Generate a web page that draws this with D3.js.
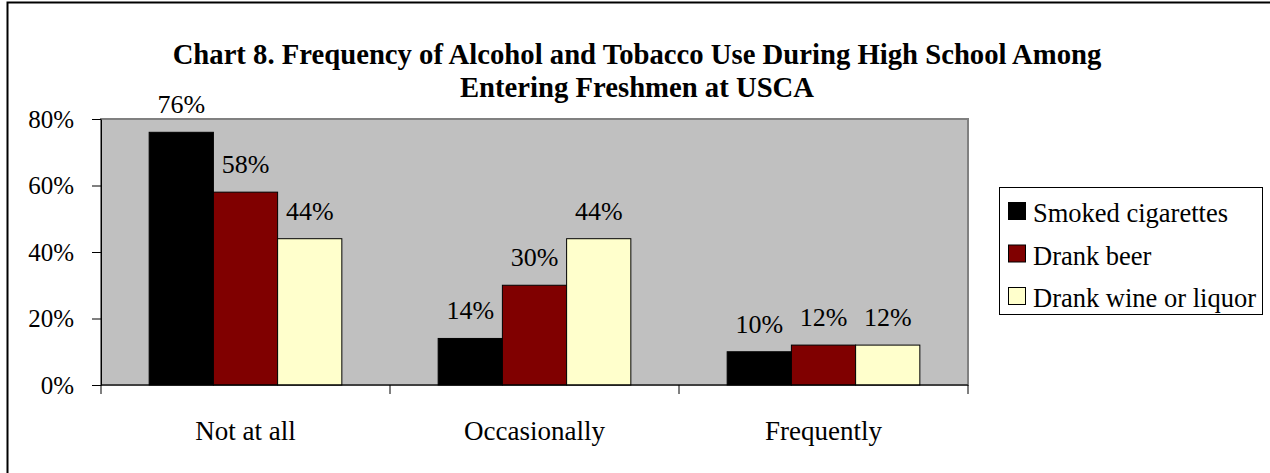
<!DOCTYPE html>
<html>
<head>
<meta charset="utf-8">
<script src="https://cdn.jsdelivr.net/npm/d3@7"></script>
<style>
  html, body { margin: 0; padding: 0; background: #fff; }
  svg text { font-family: "Times New Roman", "Liberation Serif", "DejaVu Serif", serif; }
</style>
</head>
<body>
<svg id="chart" width="1270" height="473"></svg>
<script>
// Survey responses: share of entering freshmen by frequency of use
const categories = ["Not at all", "Occasionally", "Frequently"];
const seriesNames = ["Smoked cigarettes", "Drank beer", "Drank wine or liquor"];
const smokedCigarettes = [76, 14, 10];
const drankBeer = [58, 30, 12];
const drankWineOrLiquor = [44, 44, 12];
const yTicks = [0, 20, 40, 60, 80];
const titleLines = [
  "Chart 8. Frequency of Alcohol and Tobacco Use During High School Among",
  "Entering Freshmen at USCA"
];

const seriesValues = [smokedCigarettes, drankBeer, drankWineOrLiquor];
const colors = ["#000000", "#800000", "#FFFFCC"];
const serif = "'Times New Roman', 'Liberation Serif', 'DejaVu Serif', serif";

const svg = d3.select("#chart");

// outer chart frame
svg.append("rect")
  .attr("x", 7.5).attr("y", 2.5)
  .attr("width", 1300).attr("height", 500)
  .attr("fill", "#fff").attr("stroke", "#000").attr("stroke-width", 2);

const plot = { left: 101, right: 968, top: 119, bottom: 385 };

const x0 = d3.scaleBand().domain(categories).range([plot.left, plot.right]).paddingInner(0).paddingOuter(0);
// gap width of 150% of a bar: 3 bars + 1.5 bar gap per category
const bw = x0.bandwidth() / 4.5;
const x1 = d3.scaleBand().domain(seriesNames)
  .range([0.75 * bw, 3.75 * bw]).padding(0);
const y = d3.scaleLinear().domain([0, 80]).range([plot.bottom, plot.top]);

// plot area background, grey frame on top and right
svg.append("rect")
  .attr("x", plot.left).attr("y", plot.top)
  .attr("width", plot.right - plot.left).attr("height", plot.bottom - plot.top)
  .attr("fill", "#C0C0C0").attr("stroke", "#808080").attr("stroke-width", 2);

// title
svg.append("g").selectAll("text").data(titleLines).join("text")
  .attr("x", 637).attr("y", (d, i) => 64 + i * 33)
  .attr("text-anchor", "middle")
  .attr("font-family", serif)
  .attr("font-weight", "bold").attr("font-size", 28.7)
  .text(d => d);

// bars
const groups = svg.append("g").selectAll("g").data(categories).join("g")
  .attr("transform", d => `translate(${x0(d)},0)`);

const cells = (c, ci) => seriesNames.map((s, si) => ({ s, si, v: seriesValues[si][ci] }));

groups.selectAll("rect").data(cells)
  .join("rect")
  .attr("x", d => x1(d.s))
  .attr("y", d => y(d.v))
  .attr("width", x1.bandwidth())
  .attr("height", d => y(0) - y(d.v))
  .attr("fill", d => colors[d.si])
  .attr("stroke", "#000").attr("stroke-width", 1);

// value labels above bars
groups.selectAll("text").data(cells)
  .join("text")
  .attr("x", d => x1(d.s) + x1.bandwidth() / 2)
  .attr("y", d => y(d.v) - 19)
  .attr("text-anchor", "middle")
  .attr("font-family", serif)
  .attr("font-size", 26)
  .text(d => d.v + "%");

// y axis
const yAxis = svg.append("g")
  .attr("transform", `translate(${plot.left},0)`)
  .call(d3.axisLeft(y).tickValues(yTicks).tickFormat(d => d + "%").tickSize(9).tickSizeOuter(0));
yAxis.attr("font-family", serif);
yAxis.select(".domain").attr("stroke", "#000");
yAxis.selectAll(".tick line").attr("stroke", "#000");
yAxis.selectAll(".tick text")
  .attr("font-family", serif)
  .attr("font-size", 25).attr("fill", "#000").attr("x", -27);

// x axis with ticks on category boundaries
svg.append("line")
  .attr("x1", plot.left).attr("x2", plot.right)
  .attr("y1", plot.bottom).attr("y2", plot.bottom)
  .attr("stroke", "#000");
const boundaries = categories.map(c => x0(c)).concat([x0(categories[categories.length - 1]) + x0.bandwidth()]);
svg.append("g").selectAll("line").data(boundaries).join("line")
  .attr("x1", d => d).attr("x2", d => d)
  .attr("y1", plot.bottom).attr("y2", plot.bottom + 9)
  .attr("stroke", "#000");
svg.append("g").selectAll("text").data(categories).join("text")
  .attr("x", d => x0(d) + x0.bandwidth() / 2)
  .attr("y", 440)
  .attr("text-anchor", "middle")
  .attr("font-family", serif)
  .attr("font-size", 27)
  .text(d => d);

// legend
const legend = svg.append("g");
legend.append("rect")
  .attr("x", 999.5).attr("y", 187.5).attr("width", 263).attr("height", 127)
  .attr("fill", "#fff").attr("stroke", "#000").attr("stroke-width", 1);
const items = legend.selectAll("g").data(seriesNames).join("g")
  .attr("transform", (d, i) => `translate(0,${222 + i * 42.5})`);
items.append("rect")
  .attr("x", 1008.5).attr("y", -19.5).attr("width", 17).attr("height", 17)
  .attr("fill", (d, i) => colors[i]).attr("stroke", "#000");
items.append("text")
  .attr("x", 1033).attr("y", 0)
  .attr("font-family", serif)
  .attr("font-size", 26.5)
  .text(d => d);
</script>
</body>
</html>
